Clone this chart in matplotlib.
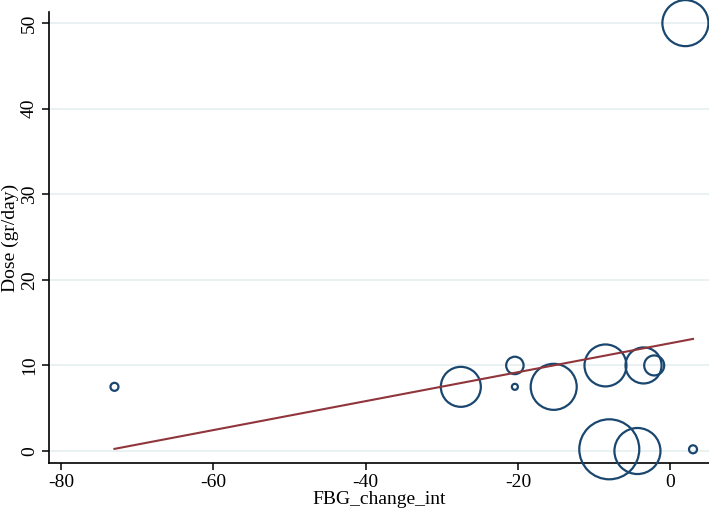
import numpy as np
import matplotlib
matplotlib.use("Agg")
import matplotlib.pyplot as plt

# study-level data: FBG change, dose, weight (bubble size)
fbg_change = [-73, -27.5, -20.4, -20.4, -15.3, -8.5, -3.5, -2.1, -8.0, -4.3, 3.0, 2.0]
dose = [7.5, 7.5, 10, 7.5, 7.5, 10, 10, 10, 0.2, 0.0, 0.2, 50]
weight = [16, 400, 76, 9, 530, 440, 325, 100, 900, 530, 16, 530]

# fitted meta-regression line
fit_x = [-73, 3]
fit_y = [0.25, 13.1]

plt.rcParams['font.family'] = ['Liberation Serif', 'DejaVu Serif']
plt.rcParams['axes.unicode_minus'] = False

fig = plt.figure(figsize=(7.09, 5.14), dpi=100)
ax = fig.add_axes([49 / 709, (514 - 463) / 514, 660 / 709, (463 - 12) / 514])

# bubble area ~ weight; radius px = sqrt(weight), 1 px = 0.72 pt
sizes = [(2 * np.sqrt(w) * 0.72) ** 2 for w in weight]
ax.scatter(fbg_change, dose, s=sizes, facecolors='none', edgecolors='#1a476f',
           linewidths=1.6, clip_on=False, zorder=3)
ax.plot(fit_x, fit_y, color='#90353b', lw=1.5, zorder=4)

ax.set_xlim(-81.6, 5.1)
ax.set_ylim(-1.4, 51.3)
ax.set_xticks([-80, -60, -40, -20, 0])
ax.set_yticks([0, 10, 20, 30, 40, 50])
ax.grid(axis='y', color='#e6eff1', lw=1.2)
ax.set_axisbelow(True)
for s in ['top', 'right']:
    ax.spines[s].set_visible(False)
for s in ['left', 'bottom']:
    ax.spines[s].set_linewidth(1.2)
ax.tick_params(direction='out', length=5, width=1.1, labelsize=14, pad=3)
plt.setp(ax.get_yticklabels(), rotation=90, va='center')
ax.set_xlabel('FBG_change_int', fontsize=14, labelpad=0)
ax.set_ylabel('Dose (gr/day)', fontsize=14)
ax.yaxis.set_label_coords(-30 / 660, 0.5)

fig.savefig('out.png', dpi=100)
